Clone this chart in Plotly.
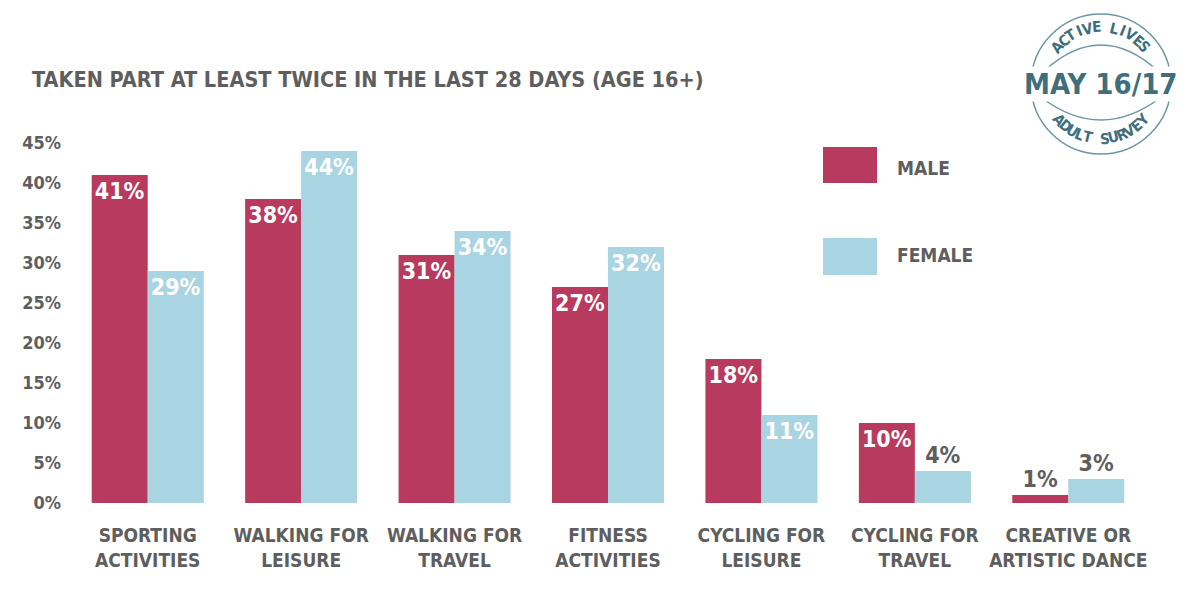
import math
import plotly.graph_objects as go

categories = ["SPORTING<br>ACTIVITIES", "WALKING FOR<br>LEISURE", "WALKING FOR<br>TRAVEL",
              "FITNESS<br>ACTIVITIES", "CYCLING FOR<br>LEISURE", "CYCLING FOR<br>TRAVEL",
              "CREATIVE OR<br>ARTISTIC DANCE"]
male = [41, 38, 31, 27, 18, 10, 1]
female = [29, 44, 34, 32, 11, 4, 3]
title_text = "TAKEN PART AT LEAST TWICE IN THE LAST 28 DAYS (AGE 16+)"

MALE_C = "#B83A5E"
FEMALE_C = "#A9D4E2"
GREY = "#5E5E5E"
TEAL = "#3F6E7D"
RING = "#6D96A3"
FONT = "DejaVu Sans Condensed"

W, H = 1200, 598
ML, MR, MT, MB = 71, 55, 143, 95
PW, PH = W - ML - MR, H - MT - MB


def px2x(px):
    return (px - ML) / PW


def px2y(py):
    return (H - MB - py) / PH


def pos(vals):
    return ["inside" if v >= 10 else "outside" for v in vals]


fig = go.Figure()
for name, vals, col in [("MALE", male, MALE_C), ("FEMALE", female, FEMALE_C)]:
    fig.add_trace(go.Bar(
        x=categories, y=vals, name=name, marker=dict(color=col, line=dict(width=0)),
        text=[f"{v}%" for v in vals], textposition=pos(vals), insidetextanchor="end",
        insidetextfont=dict(family=FONT, size=23, color="white", weight="bold"),
        outsidetextfont=dict(family=FONT, size=23, color=GREY, weight="bold"),
        constraintext="none", cliponaxis=False, showlegend=False, hoverinfo="skip",
    ))

fig.update_layout(
    width=W, height=H, margin=dict(l=ML, r=MR, t=MT, b=MB),
    paper_bgcolor="white", plot_bgcolor="white",
    barmode="group", bargap=0.27, bargroupgap=0,
    font=dict(family=FONT, color=GREY),
    xaxis=dict(showgrid=False, zeroline=False, showline=False, ticks="",
               tickfont=dict(family=FONT, size=19, color=GREY, weight="bold"),
               ticklabelstandoff=19, range=[-0.5, 6.5]),
    yaxis=dict(range=[0, 45], dtick=5, ticksuffix="%", showgrid=False, zeroline=False,
               showline=False, ticks="", ticklabelstandoff=9,
               tickfont=dict(family=FONT, size=18, color=GREY, weight="bold")),
)

ann = []
shapes = []
ann.append(dict(text=title_text, xref="paper", yref="paper", x=px2x(30), y=px2y(80),
                xanchor="left", yanchor="middle", showarrow=False,
                font=dict(family=FONT, size=21.5, color=GREY, weight="bold")))

# legend
for label, col, y0, y1, ty in [("MALE", MALE_C, 147, 183, 168), ("FEMALE", FEMALE_C, 238, 275, 255)]:
    shapes.append(dict(type="rect", xref="paper", yref="paper", x0=px2x(823), x1=px2x(877),
                       y0=px2y(y1), y1=px2y(y0), fillcolor=col, line=dict(width=0)))
    ann.append(dict(text=label, xref="paper", yref="paper", x=px2x(895), y=px2y(ty),
                    xanchor="left", yanchor="middle", showarrow=False,
                    font=dict(family=FONT, size=19, color=GREY, weight="bold")))

# logo
cx, cy = px2x(1101), px2y(84)
shapes.append(dict(type="circle", xref="paper", yref="paper", xsizemode="pixel", ysizemode="pixel",
                   xanchor=cx, yanchor=cy, x0=-70, x1=70, y0=-70, y1=70,
                   line=dict(color=RING, width=1.5)))
shapes.append(dict(type="path", xref="paper", yref="paper", xsizemode="pixel", ysizemode="pixel",
                   xanchor=cx, yanchor=cy, path="M -57,13 Q 0,65 57,13",
                   line=dict(color=RING, width=1.5)))
shapes.append(dict(type="path", xref="paper", yref="paper", xsizemode="pixel", ysizemode="pixel",
                   xanchor=cx, yanchor=cy, path="M -59,-14 Q 0,-58 59,-14",
                   line=dict(color=RING, width=1.5)))
ann.append(dict(text="MAY 16/17", xref="paper", yref="paper", x=cx, y=cy, yshift=0,
                xanchor="center", yanchor="middle", showarrow=False, bgcolor="white",
                borderpad=0,
                font=dict(family=FONT, size=29, color=TEAL, weight="bold")))

top_word = "ACTIVE LIVES"
bot_word = "ADULT SURVEY"
r_top, r_bot = 57, 55
step = 9.0
n = len(top_word)
for i, ch in enumerate(top_word):
    if ch == " ":
        continue
    th = (i - (n - 1) / 2) * step
    t = math.radians(th)
    ann.append(dict(text=ch, xref="paper", yref="paper", x=cx, y=cy,
                    xshift=r_top * math.sin(t), yshift=r_top * math.cos(t),
                    textangle=th, showarrow=False, xanchor="center", yanchor="middle",
                    font=dict(family=FONT, size=15, color=TEAL, weight="bold")))
n = len(bot_word)
for i, ch in enumerate(bot_word):
    if ch == " ":
        continue
    ph = (i - (n - 1) / 2) * step
    p = math.radians(ph)
    ann.append(dict(text=ch, xref="paper", yref="paper", x=cx, y=cy,
                    xshift=r_bot * math.sin(p), yshift=-r_bot * math.cos(p),
                    textangle=-ph, showarrow=False, xanchor="center", yanchor="middle",
                    font=dict(family=FONT, size=15, color=TEAL, weight="bold")))

fig.update_layout(annotations=ann, shapes=shapes)
fig.write_html("out.html", config={"displayModeBar": False},
               post_script="document.body.style.margin='0px';")
